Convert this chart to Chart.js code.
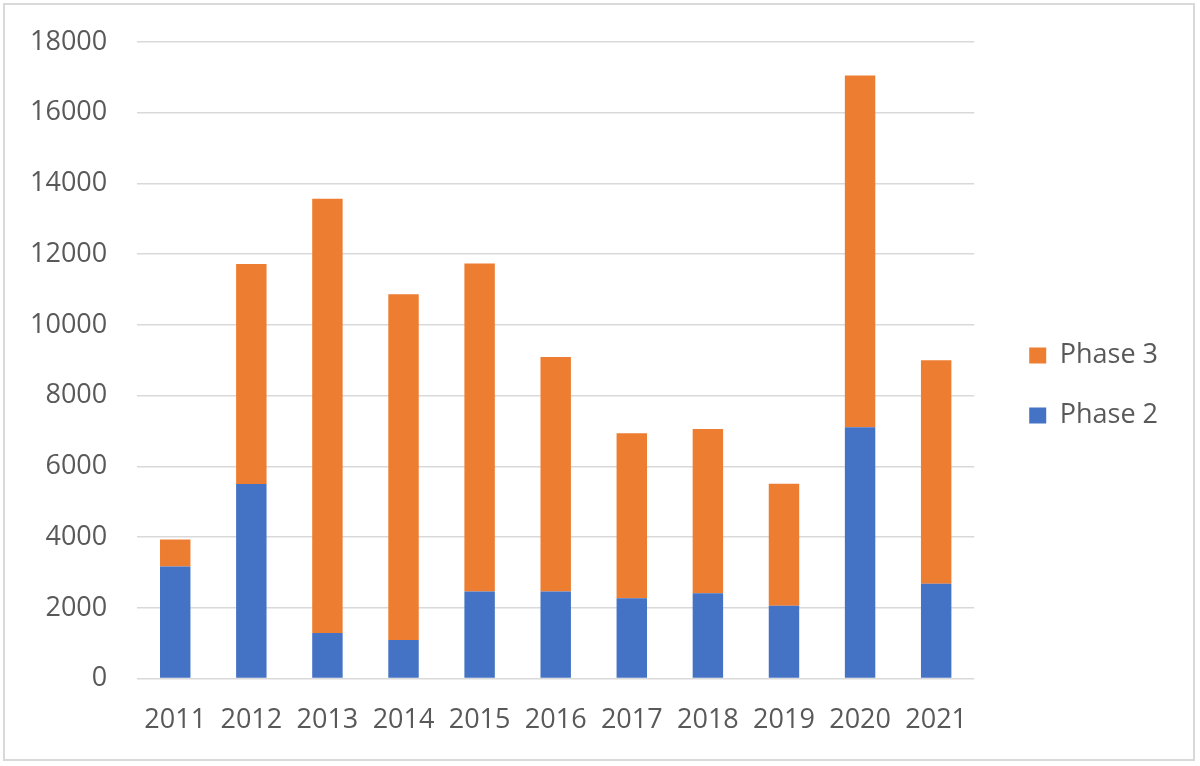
<!DOCTYPE html>
<html>
<head>
<meta charset="utf-8">
<script src="https://cdn.jsdelivr.net/npm/chart.js@4"></script>
<style>
  html, body { margin: 0; padding: 0; background: #fff; }
  #wrap { width: 1200px; height: 766px; position: relative; }
</style>
</head>
<body>
<div id="wrap"><canvas id="c" width="1200" height="766"></canvas></div>
<script>
const categories = ['2011','2012','2013','2014','2015','2016','2017','2018','2019','2020','2021'];
const phase2 = [3170, 5500, 1290, 1090, 2460, 2460, 2270, 2410, 2060, 7110, 2680];
const phase3 = [760, 6220, 12280, 9780, 9280, 6630, 4670, 4650, 3450, 9940, 6320];
const yMin = 0, yMax = 18000, yStep = 2000;

const frame = {
  id: 'frame',
  beforeDraw(chart) {
    const ctx = chart.ctx;
    ctx.save();
    ctx.fillStyle = '#ffffff';
    ctx.fillRect(0, 0, chart.width, chart.height);
    ctx.strokeStyle = '#d9d9d9';
    ctx.lineWidth = 2;
    ctx.strokeRect(4, 4, 1190, 756);
    ctx.restore();
  }
};
const shiftLegend = {
  id: 'shiftLegend',
  afterLayout(chart) {
    const l = chart.legend;
    if (!l) return;
    l.left += 22; l.right += 22;
    l.top -= 17; l.bottom -= 17;
  }
};

Chart.defaults.font.family = '"Open Sans", sans-serif';
Chart.defaults.font.size = 27;
Chart.defaults.color = '#595959';

new Chart(document.getElementById('c'), {
  type: 'bar',
  data: {
    labels: categories,
    datasets: [
      { label: 'Phase 2', data: phase2, backgroundColor: '#4472C4', borderWidth: 0 },
      { label: 'Phase 3', data: phase3, backgroundColor: '#ED7D31', borderWidth: 0 }
    ]
  },
  options: {
    responsive: false,
    animation: false,
    devicePixelRatio: 1,
    layout: { autoPadding: false, padding: { left: 0, top: 42, right: 54, bottom: 3 } },
    datasets: { bar: { barPercentage: 0.4, categoryPercentage: 1 } },
    scales: {
      x: {
        stacked: true,
        grid: { display: false, drawTicks: false },
        border: { display: false },
        ticks: { padding: 26, color: '#595959', maxRotation: 0 }
      },
      y: {
        stacked: true,
        min: yMin, max: yMax,
        grid: { color: '#d9d9d9', lineWidth: 1.5, drawTicks: false },
        border: { display: false },
        ticks: { stepSize: yStep, padding: 30, color: '#595959', callback: (v) => String(v) },
        afterFit: (scale) => { scale.paddingTop = 0; scale.paddingBottom = 0; }
      }
    },
    plugins: {
      legend: {
        position: 'right',
        reverse: true,
        labels: { boxWidth: 17, boxHeight: 16, padding: 33, color: '#595959' }
      },
      tooltip: { enabled: false }
    }
  },
  plugins: [frame, shiftLegend]
});
</script>
</body>
</html>
